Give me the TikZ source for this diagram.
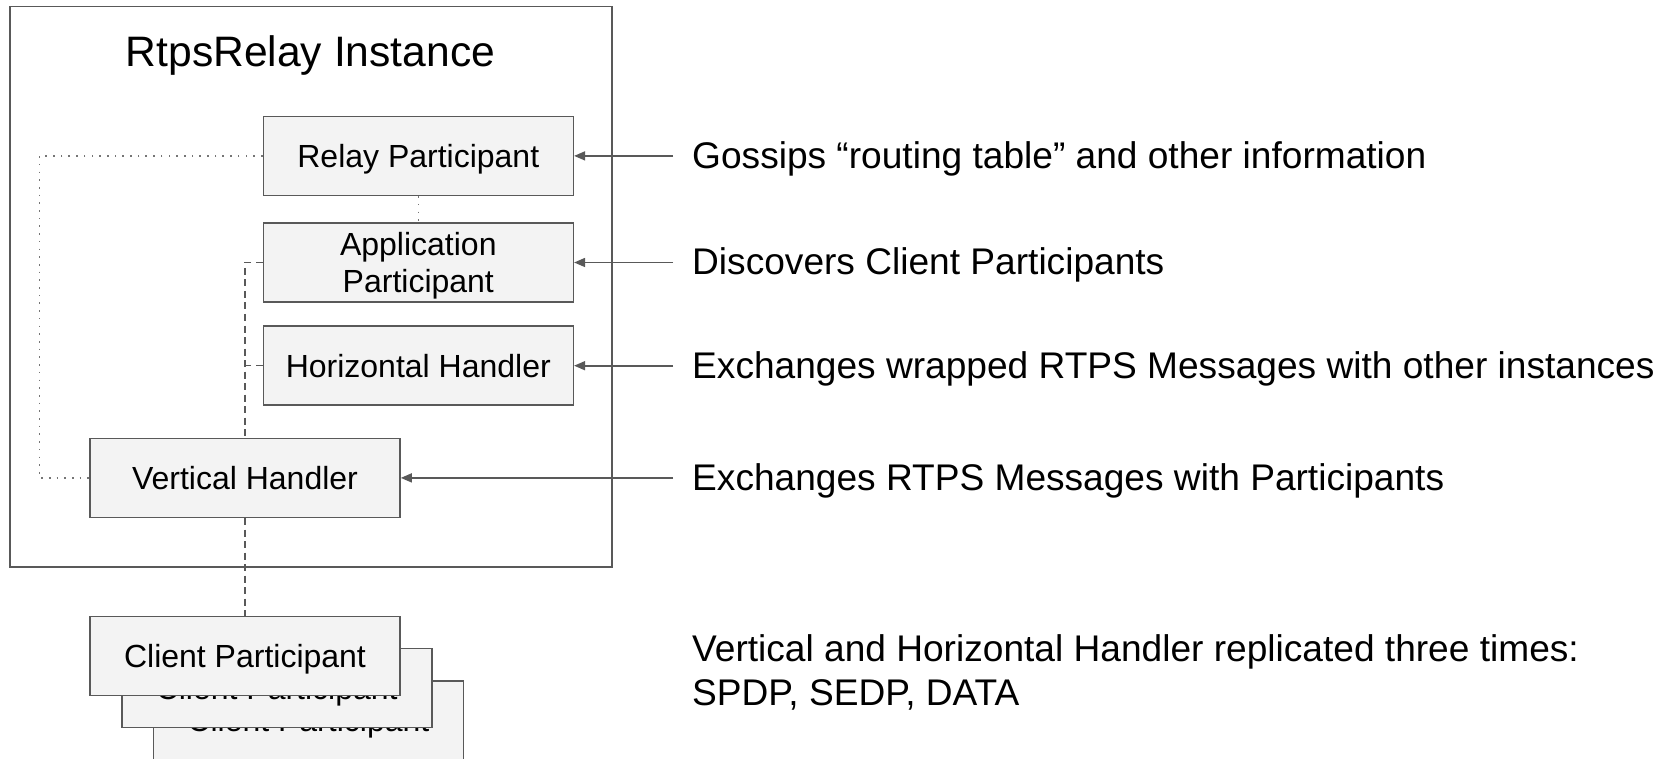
\documentclass[tikz,border=0pt]{standalone}
\usepackage{fontspec}
\setmainfont{Liberation Sans}
\usetikzlibrary{arrows.meta}
\definecolor{boxfill}{HTML}{F3F3F3}
\definecolor{boxline}{HTML}{595959}
\definecolor{dotgray}{HTML}{757575}
\tikzset{
  compbox/.style={draw=boxline, fill=boxfill, line width=1.6pt, inner sep=0pt,
    minimum width=310pt, minimum height=79pt, align=center,
    text height=22.6pt, text depth=0pt,
    font=\fontsize{32}{37}\selectfont},
  desc/.style={anchor=base west, inner sep=0pt, align=left,
    font=\fontsize{37.1}{43.3}\selectfont},
  dotline/.style={draw=dotgray, line width=1.6pt, dash pattern=on 1.6pt off 6.1pt},
  dashline/.style={draw=boxline, line width=1.5pt, dash pattern=on 7pt off 4.5pt},
  arr/.style={draw=boxline, line width=1.6pt, -{Triangle[length=11pt,width=9pt]}}
}
\begin{document}
\begin{tikzpicture}[x=1pt,y=-1pt]
\useasboundingbox (0,0) rectangle (1665,759);
% outer instance box
\draw[draw=boxline, line width=1.4pt] (10,6.7) rectangle (612,567);
\node[anchor=base, inner sep=0pt, font=\fontsize{42.6}{50}\selectfont] (title) at (310.5,66.6) {RtpsRelay Instance};

% inner components
\node[compbox] (relay) at (418.3,155.9) {Relay Participant};
\node[compbox, text height=59.6pt] (app) at (418.3,262.5) {Application\\Participant};
\node[compbox] (horiz) at (418.3,365.7) {Horizontal Handler};
\node[compbox] (vert) at (245,477.9) {Vertical Handler};

% client participants (stacked)
\node[compbox] (client3) at (308.4,720.2) {Client Participant};
\node[compbox] (client2) at (276.7,688.1) {Client Participant};
\node[compbox] (client1) at (245,655.9) {Client Participant};

% connectors
\coordinate (dl) at (39.5,155.9);
\draw[dotline] (relay.west) -- (dl) |- (vert.west);
\draw[dotline] (relay.south) -- (app.north);
\draw[dashline] (app.west) -| (vert.north);
\draw[dashline] (horiz.west) -- (horiz.west -| vert.north);
\draw[dashline] (vert.south) -- (client1.north);

% descriptions
\node[desc] (d1) at (692,168.4) {Gossips “routing table” and other information};
\node[desc] (d2) at (692,275) {Discovers Client Participants};
\node[desc] (d3) at (692,378.2) {Exchanges wrapped RTPS Messages with other instances};
\node[desc] (d4) at (692,490.5) {Exchanges RTPS Messages with Participants};
\node[desc] (d5) at (692,705) {Vertical and Horizontal Handler replicated three times:\\SPDP, SEDP, DATA};

\coordinate (s1) at (673,155.9);
\coordinate (s2) at (673,262.5);
\coordinate (s3) at (673,365.7);
\coordinate (s4) at (673,477.9);
\draw[arr] (s1) -- (relay.east);
\draw[arr] (s2) -- (app.east);
\draw[arr] (s3) -- (horiz.east);
\draw[arr] (s4) -- (vert.east);
\end{tikzpicture}
\end{document}
